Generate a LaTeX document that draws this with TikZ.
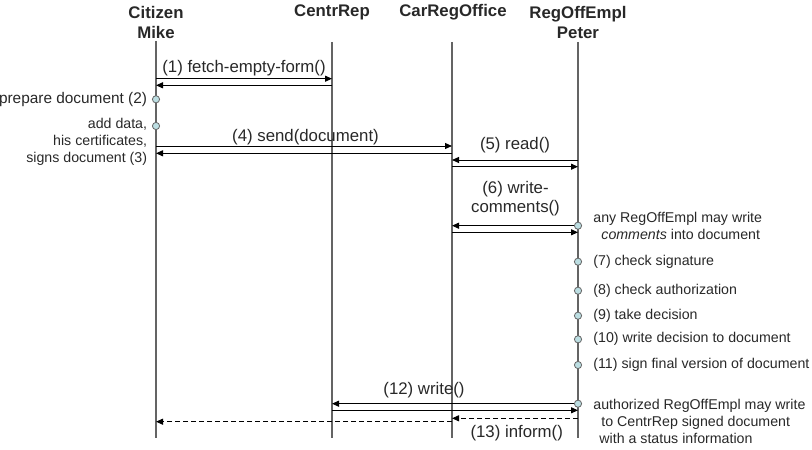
\documentclass[tikz,border=0pt]{standalone}
\usepackage{fontspec}
\setmainfont{Liberation Sans}
\usepackage{xcolor}
\usepackage{tikz}
\usetikzlibrary{arrows.meta,positioning}
\definecolor{lifegray}{RGB}{100,100,100}
\definecolor{actfill}{RGB}{188,222,226}
\definecolor{textgray}{RGB}{40,40,40}
\tikzset{head node/.style={font=\bfseries\fontsize{8.4}{10}\selectfont,align=center,inner sep=0pt,text=textgray},
	msg label/.style={font=\fontsize{8.4}{9.2}\selectfont,align=center,inner sep=0pt,text=textgray},
	note/.style={font=\fontsize{7.1}{8.5}\selectfont,inner sep=0pt,text=textgray},
	lifeline/.style={draw=lifegray,line width=0.6pt},
	msg/.style={draw,black,line width=0.5pt,-{Triangle[length=3.5pt,width=3pt]}},
	reply/.style={msg,dashed,dash pattern=on 2.5pt off 1.5pt},
	act node/.style={circle,draw=lifegray,fill=actfill,line width=0.4pt,minimum size=3.6pt,inner sep=0pt},}

\begin{document}
\begin{tikzpicture}[x=0.5pt,y=-0.5pt]
	\useasboundingbox (0,0) rectangle (812,449);

	% actors
	\node[head node] (citizen) at (156,22) {Citizen\\Mike};
	\node[head node] (centrrep) at (332,12) {CentrRep};
	\node[head node] (office) at (453,12) {CarRegOffice};
	\node[head node] (empl) at (578,22) {RegOffEmpl\\Peter};

	% lifelines
	\coordinate (cit) at (156,41);
	\coordinate (rep) at (332,42);
	\coordinate (off) at (452,42);
	\coordinate (emp) at (578,42);
	\coordinate (bot) at (0,438);
	\path[lifeline]
	(cit) -- (cit |- bot)
	(rep) -- (rep |- bot)
	(off) -- (off |- bot)
	(emp) -- (emp |- bot)
	;

	% rows
	\coordinate (r1) at (0,78.7);
	\coordinate (r1b) at (0,85.3);
	\coordinate (r2) at (0,99.3);
	\coordinate (r3) at (0,126);
	\coordinate (r4) at (0,146);
	\coordinate (r4b) at (0,153.3);
	\coordinate (r5) at (0,160);
	\coordinate (r5b) at (0,166.7);
	\coordinate (r6) at (0,225.7);
	\coordinate (r6b) at (0,232.3);
	\coordinate (r7) at (0,261.7);
	\coordinate (r8) at (0,290.7);
	\coordinate (r9) at (0,315.7);
	\coordinate (r10) at (0,339.3);
	\coordinate (r11) at (0,365);
	\coordinate (r12) at (0,403.7);
	\coordinate (r12b) at (0,410.3);
	\coordinate (r13) at (0,418.3);
	\coordinate (r13b) at (0,421.7);

	% messages
	\path[msg] (cit |- r1) -- (rep |- r1);
	\path[msg] (rep |- r1b) -- (cit |- r1b);
	\path[msg] (cit |- r4) -- (off |- r4);
	\path[msg] (off |- r4b) -- (cit |- r4b);
	\path[msg] (emp |- r5) -- (off |- r5);
	\path[msg] (off |- r5b) -- (emp |- r5b);
	\path[msg] (emp |- r6) -- (off |- r6);
	\path[msg] (off |- r6b) -- (emp |- r6b);
	\path[msg] (emp |- r12) -- (rep |- r12);
	\path[msg] (rep |- r12b) -- (emp |- r12b);
	\path[reply] (emp |- r13) -- (off |- r13);
	\path[reply] (off |- r13b) -- (cit |- r13b);

	\node[msg label] (l1) at (244,68) {(1) fetch-empty-form()};
	\node[msg label] (l4) at (305.5,137.3) {(4) send(document)};
	\node[msg label] (l5) at (515,145) {(5) read()};
	\node[msg label] (l6) at (515.5,198.5) {(6) write-\\comments()};
	\node[msg label] (l12) at (424,390) {(12) write()};
	\node[msg label] (l13) at (516.7,432.7) {(13) inform()};

	% activities
	\node[act node] (a2) at (cit |- r2) {};
	\node[act node] (a3) at (cit |- r3) {};
	\node[act node] (a6) at (emp |- r6) {};
	\node[act node] (a7) at (emp |- r7) {};
	\node[act node] (a8) at (emp |- r8) {};
	\node[act node] (a9) at (emp |- r9) {};
	\node[act node] (a10) at (emp |- r10) {};
	\node[act node] (a11) at (emp |- r11) {};
	\node[act node] (a12) at (emp |- r12) {};

	\node[note,anchor=east,font=\fontsize{7.7}{9}\selectfont] (n2) at (147.5,99.3) {prepare document (2)};
	\node[note,anchor=east,align=right] (n3) at (147.5,142.2) {add data,\\his certificates,\\signs document (3)};
	\node[note,anchor=west,align=left] (n6) at (593,225.8) {any RegOffEmpl may write\\\hspace*{4pt}\emph{comments} into document};
	\node[note,anchor=west] (n7) at (593,261.7) {(7) check signature};
	\node[note,anchor=west] (n8) at (593,290.7) {(8) check authorization};
	\node[note,anchor=west] (n9) at (593,315.7) {(9) take decision};
	\node[note,anchor=west] (n10) at (593,339.3) {(10) write decision to document};
	\node[note,anchor=west] (n11) at (593,365) {(11) sign final version of document};
	\node[note,anchor=west,align=left] (n12) at (593,421) {authorized RegOffEmpl may write\\\hspace*{4pt}to CentrRep signed document\\\hspace*{3pt}with a status information};
\end{tikzpicture}
\end{document}
